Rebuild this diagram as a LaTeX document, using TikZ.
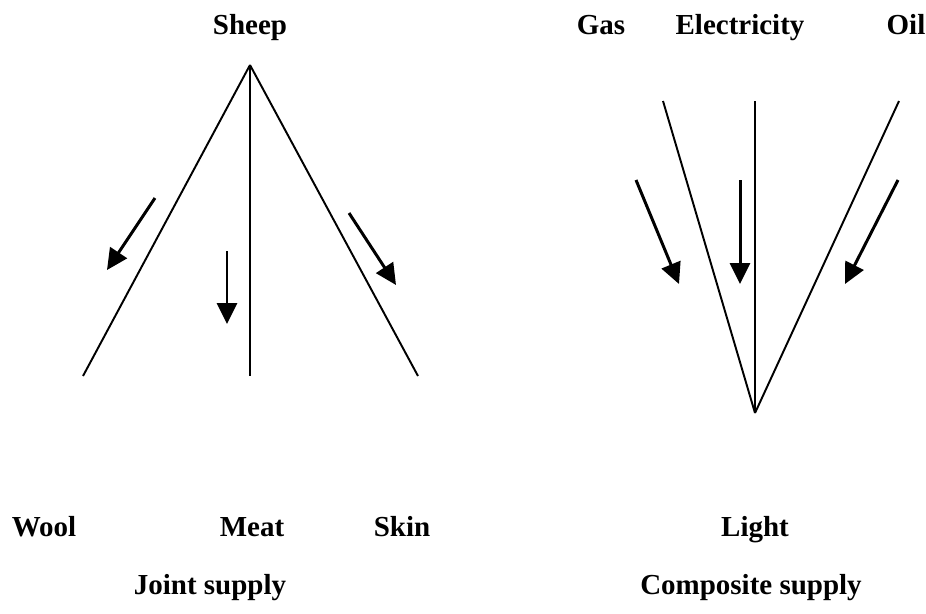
\documentclass[tikz,border=0pt]{standalone}
\usepackage{fontspec}
\setmainfont{Liberation Serif}
\usetikzlibrary{arrows.meta}
\tikzset{
  supplylabel/.style={
    inner sep=0pt,
    text height=1.4ex,
    text depth=0.4ex,
    font=\fontsize{16.5}{20}\selectfont\bfseries
  },
  supplyline/.style={
    line width=1.1pt,
    draw=black
  },
  supplyarrow/.style={
    -{Triangle[length=4.2mm,width=4mm]},
    line width=1.7pt,
    draw=black
  }
}
\begin{document}
\begin{tikzpicture}[x=0.02cm,y=-0.02cm]
\useasboundingbox (0,0) rectangle (926,613);
% joint supply
\node[supplylabel] (sheep) at (250,30) {Sheep};
\node[supplylabel] (wool) at (44,532) {Wool};
\node[supplylabel] (meat) at (252,532) {Meat};
\node[supplylabel] (skin) at (402,532) {Skin};
\node[supplylabel] (joint) at (210,590) {Joint supply};

\coordinate (apex) at (250,65);
\coordinate (woolend) at (83,376);
\coordinate (meatend) at (250,376);
\coordinate (skinend) at (418,376);

\coordinate (woolfrom) at (155,198);
\coordinate (woolto) at (107,270);
\coordinate (meatfrom) at (227,251);
\coordinate (meatto) at (227,324);
\coordinate (skinfrom) at (349,213);
\coordinate (skinto) at (396,285);

\draw[supplyline] (apex) -- (woolend);
\draw[supplyline] (apex) -- (meatend);
\draw[supplyline] (apex) -- (skinend);
\draw[supplyarrow] (woolfrom) -- (woolto);
\draw[supplyarrow] (meatfrom) -- (meatto);
\draw[supplyarrow] (skinfrom) -- (skinto);

% composite supply
\node[supplylabel] (gas) at (601,30) {Gas};
\node[supplylabel] (elec) at (740,30) {Electricity};
\node[supplylabel] (oil) at (906,30) {Oil};
\node[supplylabel] (light) at (755,532) {Light};
\node[supplylabel] (composite) at (751,590) {Composite supply};

\coordinate (vertex) at (755,413);
\coordinate (gasend) at (663,101);
\coordinate (elecend) at (755,101);
\coordinate (oilend) at (899,101);

\coordinate (gasfrom) at (636,180);
\coordinate (gasto) at (679,284);
\coordinate (elecfrom) at (740,180);
\coordinate (electo) at (740,284);
\coordinate (oilfrom) at (898,180);
\coordinate (oilto) at (845,284);

\draw[supplyline] (gasend) -- (vertex);
\draw[supplyline] (elecend) -- (vertex);
\draw[supplyline] (oilend) -- (vertex);
\draw[supplyarrow] (gasfrom) -- (gasto);
\draw[supplyarrow] (elecfrom) -- (electo);
\draw[supplyarrow] (oilfrom) -- (oilto);
\end{tikzpicture}
\end{document}
